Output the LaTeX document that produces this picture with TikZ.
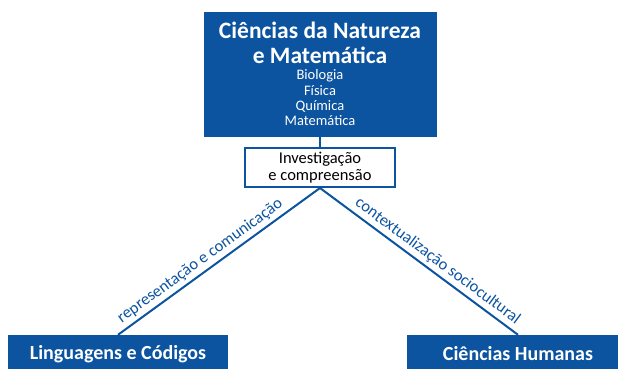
\documentclass[tikz,border=0pt]{standalone}
\usepackage{fontspec}
\setmainfont{Carlito}
\definecolor{enemblue}{RGB}{12,84,160}
\begin{document}
\begin{tikzpicture}[x=1pt,y=-1pt,
  bluebox/.style={draw=none, fill=enemblue, rectangle, inner sep=0pt},
  area/.style={text=white, font=\fontsize{20}{22}\selectfont\bfseries},
  link/.style={draw=enemblue, line width=2pt},
  lbl/.style={text=enemblue, font=\fontsize{16.5}{18}\selectfont, sloped, above}]
\useasboundingbox (0,0) rectangle (618,369);
\node[bluebox, minimum width=233pt, minimum height=125pt] (cnm) at (320,74.5) {};
\node[anchor=base, text=white, align=center, inner sep=0pt,
  font=\fontsize{23.5}{25}\selectfont\bfseries] (cnmtitle) at (320,63.5) {Ciências da Natureza\\e Matemática};
\node[anchor=base, text=white, align=center, inner sep=0pt,
  font=\fontsize{14.5}{15.2}\selectfont] (cnmlist) at (320,125.5) {Biologia\\Física\\Química\\Matemática};
\node[draw=enemblue, line width=2pt, fill=white, rectangle, minimum width=150pt, minimum height=39pt,
  inner sep=0pt, align=center, font=\fontsize{16.5}{17}\selectfont] (inv) at (320,167.5) {Investigação\\e compreensão};
\node[bluebox, area, minimum width=220pt, minimum height=38pt] (lg) at (118,354) {Linguagens e Códigos};
\node[bluebox, area, minimum width=222pt, minimum height=38pt] (ch) at (518,354) {Ciências Humanas};

\path[link] (cnm.south) -- (inv.north);
\path[link] (lg.north) -- node[lbl, pos=0.44] {representação e comunicação} (inv.south);
\path[link] (inv.south) -- node[lbl, pos=0.56] {contextualização sociocultural} (ch.north);
\end{tikzpicture}
\end{document}
